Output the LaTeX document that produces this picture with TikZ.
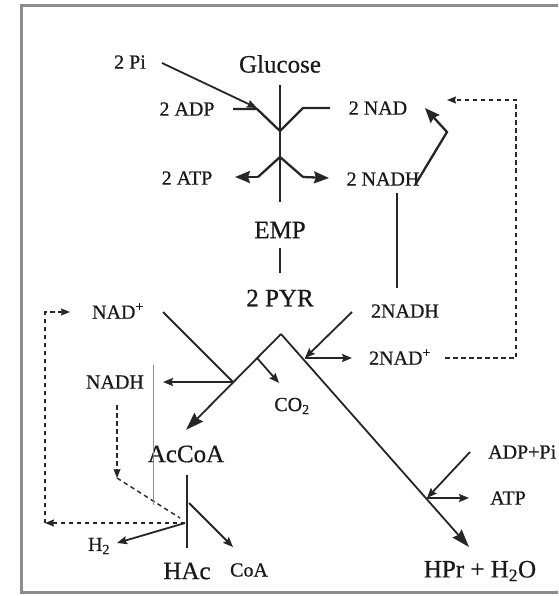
\documentclass[tikz,border=0pt]{standalone}
\usepackage{fontspec}
\setmainfont{Liberation Serif}[FakeBold=0.6]
\usetikzlibrary{arrows.meta}
\begin{document}
\begin{tikzpicture}[x=1pt,y=-1pt,
  lbl/.style={inner sep=0pt, text=black!90, font=\fontsize{20}{22}\selectfont},
  big/.style={inner sep=0pt, text=black!90, font=\fontsize{25}{28}\selectfont},
  ln/.style={line width=1.8pt, black!85, line join=miter},
  vln/.style={line width=2.3pt, black!85, line join=miter},
  arr/.style={ln, -{Stealth[length=10pt,width=8pt,inset=1.5pt]}},
  midarr/.style={vln, -{Stealth[length=15pt,width=12pt,inset=2pt]}},
  bigarr/.style={ln, -{Stealth[length=18pt,width=12pt,inset=2pt]}},
  dsh/.style={line width=1.4pt, black!85, dash pattern=on 4.5pt off 3.5pt},
  dsharr/.style={dsh, -{Stealth[length=9pt,width=7pt,inset=1pt]}},
  frame/.style={line width=3pt, black!45},
  faint/.style={line width=0.5pt, black!45}
]
\useasboundingbox (0,0) rectangle (558,596);
\clip (0,0) rectangle (558,596);
\fill[white] (0,0) rectangle (558,596);
\draw[frame] (580,6) -- (21,6) -- (21,592) -- (580,592);

% labels
\node[lbl] (pi)    at (130,62)  {2 Pi};
\node[big] (glc)   at (280,64)  {Glucose};
\node[lbl] (adp)   at (187,109) {2 ADP};
\node[lbl] (nad)   at (378,108) {2 NAD};
\node[lbl] (atp)   at (187,178) {2 ATP};
\node[lbl] (nadh)  at (383,179) {2 NADH};
\node[big] (emp)   at (280,230) {EMP};
\node[big] (pyr)   at (280,298) {2 PYR};
\node[lbl] (nadp)  at (118,311) {NAD\textsuperscript{+}};
\node[lbl] (nadhb) at (405,311) {2NADH};
\node[lbl] (nadpb) at (400,357) {2NAD\textsuperscript{+}};
\node[lbl] (nadhl) at (115,382) {NADH};
\node[lbl] (co2)   at (292,406) {CO\textsubscript{2}};
\node[big] (accoa) at (186,454) {AcCoA};
\node[lbl,anchor=west] (adppi) at (488,452) {ADP+Pi};
\node[lbl] (atpb)  at (508,498) {ATP};
\node[lbl] (h2)    at (99,546)  {H\textsubscript{2}};
\node[big] (hac)   at (187,571) {HAc};
\node[lbl] (coa)   at (249,570) {CoA};
\node[big] (hpr)   at (480,571) {HPr + H\textsubscript{2}O};

% junction coordinates
\coordinate (gtop) at (280,85);
\coordinate (gbot) at (280,202);
\coordinate (piend) at (162,63);
\coordinate (pitip) at (257,108);
\coordinate (adpin) at (233,109);
\coordinate (adpk) at (257,109);
\coordinate (vbot) at (280,131);
\coordinate (nadk) at (303,108);
\coordinate (nadin) at (330,108);
\coordinate (apexu) at (280,157);
\coordinate (atpk) at (258,177);
\coordinate (atptip) at (235,177);
\coordinate (nadhk) at (303,177);
\coordinate (nadhtip) at (329,178);
\coordinate (rs) at (415,185);
\coordinate (rk) at (447,132);
\coordinate (rtip) at (425,108);
\coordinate (dtop) at (516,100);
\coordinate (dtip) at (447,100);
\coordinate (dbot) at (516,358);
\coordinate (dstart) at (445,358);
\coordinate (e1) at (280,248);
\coordinate (e2) at (280,273);
\coordinate (v1) at (397,193);
\coordinate (v2) at (397,288);
\coordinate (apex) at (281,334);
\coordinate (actip) at (186,430);
\coordinate (jl) at (233,382);
\coordinate (nadps) at (163,312);
\coordinate (nadhtipl) at (163,382);
\coordinate (co2s) at (257,358);
\coordinate (co2tip) at (279,383);
\coordinate (hprtip) at (469,547);
\coordinate (jr) at (305,358);
\coordinate (nadhbs) at (352,312);
\coordinate (nadpbtip) at (352,358);
\coordinate (jatp) at (427,498);
\coordinate (adppis) at (470,452);
\coordinate (atptipb) at (469,498);
\coordinate (h1) at (187,475);
\coordinate (h2b) at (187,548);
\coordinate (coas) at (189,503);
\coordinate (coatip) at (233,547);
\coordinate (jh) at (185,523);
\coordinate (h2tip) at (117,543);
\coordinate (nd1) at (117,405);
\coordinate (nd2) at (117,478);
\coordinate (nd3) at (180,518);
\coordinate (lc) at (45,523);
\coordinate (lt) at (45,312);
\coordinate (ltip) at (70,312);
\coordinate (f1) at (153,365);
\coordinate (f2) at (153,505);

% glycolysis
\draw[ln] (gtop) -- (gbot);
\draw[arr] (piend) -- (pitip);
\draw[vln] (adpin) -- (adpk) -- (vbot) -- (nadk) -- (nadin);
\draw[midarr] (atpk) -- (atptip);
\draw[vln] (atpk) -- (apexu) -- (nadhk);
\draw[midarr] (nadhk) -- (nadhtip);
\draw[midarr] (rs) -- (rk) -- (rtip);
\draw[dsharr] (dstart) -- (dbot) -- (dtop) -- (dtip);
\draw[ln] (e1) -- (e2);
\draw[ln] (v1) -- (v2);

% pyruvate branches
\draw[bigarr] (apex) -- (actip);
\draw[bigarr] (apex) -- (hprtip);
\draw[ln] (nadps) -- (jl);
\draw[arr] (jl) -- (nadhtipl);
\draw[arr] (co2s) -- (co2tip);
\draw[arr] (nadhbs) -- (jr);
\draw[arr] (jr) -- (nadpbtip);
\draw[arr] (adppis) -- (jatp);
\draw[arr] (jatp) -- (atptipb);

% acetate
\draw[ln] (h1) -- (h2b);
\draw[arr] (coas) -- (coatip);
\draw[arr] (jh) -- (h2tip);
\draw[dsharr] (nd1) -- (nd2);
\draw[dsh] (nd2) -- (nd3);
\draw[dsharr] (jh) -- (lc);
\draw[dsharr] (lc) -- (lt) -- (ltip);
\draw[faint] (f1) -- (f2);
\end{tikzpicture}
\end{document}
